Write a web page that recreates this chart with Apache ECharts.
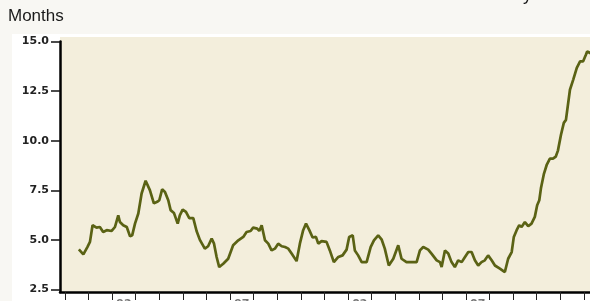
<!DOCTYPE html>
<html>
<head>
  <meta charset="utf-8">
  <title>Months</title>
  <script src="https://cdn.jsdelivr.net/npm/echarts@6/dist/echarts.min.js"></script>
  <style>
    html, body { margin: 0; padding: 0; background: #f8f7f3; }
    #main { width: 590px; height: 301px; }
  </style>
</head>
<body>
<div id="main"></div>
<script>
  // values, decimal year -> months
  const years = [
    1990.59, 1990.78, 1990.95, 1991.06, 1991.17, 1991.34, 1991.48, 1991.62, 1991.77, 1991.98,
    1992.12, 1992.26, 1992.33, 1992.47, 1992.62, 1992.76, 1992.85, 1992.97, 1993.11, 1993.25,
    1993.42, 1993.60, 1993.77, 1993.91, 1994.00, 1994.12, 1994.24, 1994.38, 1994.48, 1994.62,
    1994.78, 1994.87, 1994.99, 1995.13, 1995.27, 1995.44, 1995.58, 1995.72, 1995.93, 1996.07,
    1996.22, 1996.32, 1996.43, 1996.54, 1996.71, 1996.92, 1997.13, 1997.35, 1997.56, 1997.70,
    1997.87, 1997.98, 1998.15, 1998.24, 1998.34, 1998.48, 1998.62, 1998.76, 1998.90, 1999.04,
    1999.19, 1999.33, 1999.47, 1999.61, 1999.82, 1999.96, 2000.10, 2000.22, 2000.36, 2000.50,
    2000.64, 2000.74, 2000.88, 2001.09, 2001.23, 2001.40, 2001.59, 2001.77, 2001.94, 2002.05,
    2002.20, 2002.29, 2002.43, 2002.58, 2002.79, 2002.96, 2003.10, 2003.28, 2003.43, 2003.56,
    2003.73, 2003.92, 2004.13, 2004.27, 2004.48, 2004.70, 2004.91, 2005.05, 2005.19, 2005.40,
    2005.54, 2005.76, 2005.90, 2005.97, 2006.11, 2006.25, 2006.39, 2006.53, 2006.67, 2006.82,
    2006.96, 2007.10, 2007.24, 2007.38, 2007.52, 2007.66, 2007.80, 2007.94, 2008.09, 2008.23,
    2008.44, 2008.65, 2008.79, 2008.94, 2009.03, 2009.15, 2009.26, 2009.36, 2009.50, 2009.64,
    2009.78, 2009.92, 2010.02, 2010.11, 2010.18, 2010.30, 2010.43, 2010.56, 2010.69, 2010.81,
    2010.90, 2011.03, 2011.15, 2011.24, 2011.41, 2011.55, 2011.70, 2011.84, 2011.97, 2012.09,
    2012.14, 2012.26, 2012.38
  ];
  const months = [
    4.52, 4.27, 4.64, 4.90, 5.74, 5.62, 5.65, 5.40, 5.49, 5.45,
    5.65, 6.24, 5.90, 5.74, 5.65, 5.18, 5.23, 5.82, 6.33, 7.34,
    7.98, 7.51, 6.84, 6.92, 7.00, 7.55, 7.42, 7.00, 6.50, 6.36,
    5.82, 6.24, 6.53, 6.41, 6.10, 6.10, 5.45, 5.00, 4.56, 4.68,
    5.07, 4.81, 4.14, 3.63, 3.80, 4.05, 4.73, 4.98, 5.15, 5.40,
    5.45, 5.62, 5.57, 5.45, 5.74, 4.98, 4.81, 4.47, 4.56, 4.81,
    4.68, 4.64, 4.56, 4.31, 3.93, 4.81, 5.49, 5.82, 5.49, 5.12,
    5.15, 4.81, 4.94, 4.90, 4.47, 3.88, 4.14, 4.22, 4.51, 5.15,
    5.23, 4.47, 4.22, 3.88, 3.88, 4.64, 4.98, 5.23, 5.01, 4.56,
    3.71, 4.05, 4.73, 4.05, 3.88, 3.88, 3.88, 4.47, 4.64, 4.51,
    4.31, 3.97, 3.88, 3.63, 4.47, 4.31, 3.88, 3.63, 3.97, 3.88,
    4.14, 4.39, 4.39, 3.97, 3.71, 3.88, 3.97, 4.22, 3.97, 3.71,
    3.55, 3.38, 4.05, 4.39, 5.15, 5.49, 5.74, 5.65, 5.90, 5.69,
    5.82, 6.16, 6.75, 7.00, 7.60, 8.30, 8.80, 9.10, 9.10, 9.20,
    9.50, 10.30, 10.90, 11.05, 12.57, 13.08, 13.67, 14.00, 14.00, 14.34,
    14.50, 14.43, 14.30
  ];

  const yTicks = [2.5, 5, 7.5, 10, 12.5, 15];
  const xTicks = [];
  for (let y = 1990; y <= 2012; y++) xTicks.push(y);
  // year labels sit in the middle of their year
  const xLabels = [1992.5, 1997.5, 2002.5, 2007.5];

  const lineData = years.map((y, i) => [y, months[i]]);

  const labelFont = {
    color: '#222',
    fontSize: 11,
    fontWeight: 'bold',
    fontFamily: 'DejaVu Sans'
  };

  var myChart = echarts.init(document.getElementById('main'));

  var option = {
    backgroundColor: '#f8f7f3',
    animation: false,
    title: {
      text: 'Months',
      left: 8,
      top: 8,
      padding: 0,
      textStyle: {
        fontFamily: 'Liberation Sans',
        fontSize: 17,
        fontWeight: 'normal',
        color: '#1a1a1a'
      }
    },
    graphic: {
      elements: [
        {
          type: 'rect',
          z: -10,
          shape: { x: 12, y: 34, width: 578, height: 267 },
          style: { fill: '#ffffff' }
        },
        {
          type: 'rect',
          z: -9,
          shape: { x: 60, y: 37, width: 530, height: 255 },
          style: { fill: '#f3eedc' }
        },
        {
          type: 'text',
          z: -8,
          x: 523,
          y: -14,
          style: {
            text: 'y',
            font: '18px "Liberation Sans"',
            fill: '#1a1a1a'
          }
        }
      ]
    },
    grid: {
      left: 60,
      top: 41.5,
      right: 0,
      bottom: 9,
      outerBoundsMode: 'none'
    },
    xAxis: {
      type: 'value',
      min: 1989.79,
      max: 2012.26,
      splitLine: { show: false },
      axisLine: {
        lineStyle: { color: '#000', width: 2.5 }
      },
      axisTick: {
        customValues: xTicks,
        length: 8,
        lineStyle: { color: '#222', width: 1 }
      },
      axisLabel: {
        customValues: xLabels,
        margin: 7,
        ...labelFont,
        color: '#777',
        formatter: v => String(Math.floor(v)).slice(2)
      }
    },
    yAxis: {
      type: 'value',
      min: 2.374,
      max: 15,
      splitLine: { show: false },
      axisLine: {
        show: true,
        lineStyle: { color: '#000', width: 2.5 }
      },
      axisTick: {
        show: true,
        customValues: yTicks,
        length: 9,
        lineStyle: { color: '#111', width: 1.5 }
      },
      axisLabel: {
        customValues: yTicks,
        margin: 11,
        ...labelFont,
        formatter: v => v.toFixed(1)
      }
    },
    series: [
      {
        type: 'line',
        data: lineData,
        showSymbol: false,
        lineStyle: { color: '#5a6214', width: 2.7 }
      }
    ]
  };

  myChart.setOption(option);
</script>
</body>
</html>
